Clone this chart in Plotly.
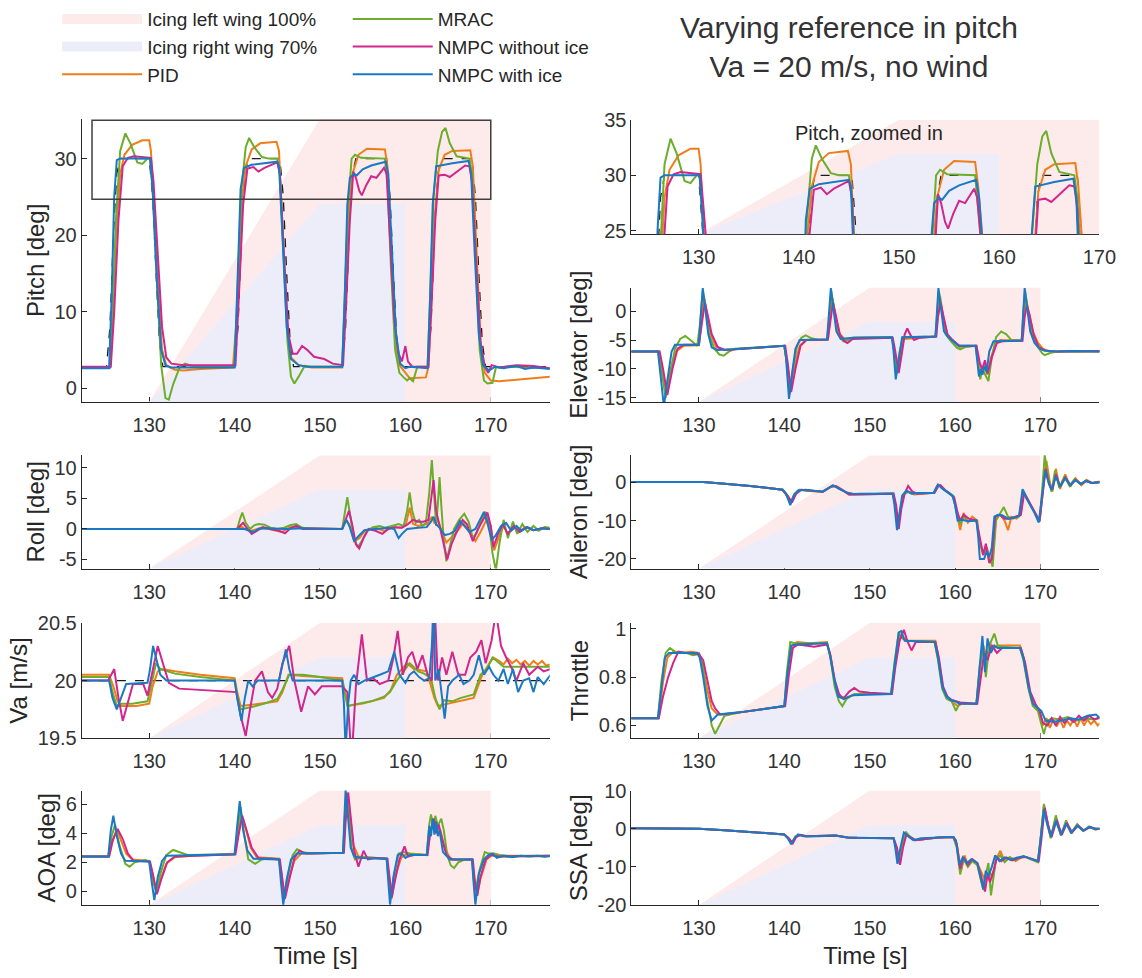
import plotly.graph_objects as go

# ---------------- data ----------------
ICE_START, ICE_FULL, ICE_RIGHT_END, ICE_LEFT_END = 130, 150, 160, 170
ICE_RIGHT_FRAC = 0.7
ZOOM_X = [123.3, 170.0]
ZOOM_Y = [24.7, 35.0]
X_RANGE = [122.1, 176.9]
X_TICKS = [130, 140, 150, 160, 170]

PITCH_REF = [(122,2.8),(125.0,2.8),(125.4,8),(125.8,20),(126.2,28),(126.6,30),(130.0,30),(130.4,25),(130.8,15),(131.2,6),(131.6,2.8),
             (140.0,2.8),(140.4,8),(140.8,20),(141.2,28),(141.6,30),(145.3,30),(145.7,25),(146.1,15),(146.5,6),(146.9,2.8),
             (152.6,2.8),(153.0,8),(153.4,20),(153.8,28),(154.2,30),(157.8,30),(158.2,25),(158.6,15),(159.0,6),(159.4,2.8),
             (162.6,2.8),(163.0,8),(163.4,20),(163.8,28),(164.2,30),(167.8,30),(168.2,25),(168.6,15),(169.0,6),(169.4,2.8),(177,2.8)]
PITCH_PID = [(122,2.7),(125.4,2.7),(125.7,8),(126.1,20),(126.6,28),(127.1,30.5),(128,31.8),(129.2,32.4),(130.0,32.4),(130.2,31),(130.5,25),(131.0,14),(131.5,5),(132.0,3.0),(133,2.4),(134,2.3),(136,2.5),(139.8,2.7),
             (140.3,10),(140.8,24),(141.3,29),(142,31.2),(143,32),(144.9,32.2),(145.2,31),(145.6,22),(146.1,9),(146.6,4),(147.5,3),(149,2.7),(152.6,2.7),
             (152.9,10),(153.3,22),(153.8,28),(154.5,30.5),(155.5,31.3),(157.6,31.2),(157.9,29),(158.3,18),(158.8,6),(159.3,3),(159.8,2.3),(160.5,1.3),(162.4,1.4),
             (162.7,2.8),(163.0,10),(163.4,22),(163.9,28.5),(164.6,30.5),(165.5,31.0),(167.6,31.1),(167.9,29),(168.3,18),(168.8,6),(169.3,2),(170,1.0),(171,0.9),(173,1.1),(175,1.3),(177,1.5)]
PITCH_MRAC = [(122,2.7),(125.4,2.7),(125.7,10),(126.1,22),(126.6,31),(127.2,33.3),(127.8,32),(128.6,29.5),(129.2,29.3),(129.8,30),(130.1,30),(130.4,26),(130.9,14),(131.4,3),(131.9,-1.3),(132.3,-1.5),(132.8,0.5),(133.6,2.8),(134.2,3.2),(135,2.9),
              (140.0,2.8),(140.3,12),(140.8,26),(141.3,31.5),(141.7,32.7),(142.3,31.5),(143.2,30.2),(144,30),(145.0,30),(145.3,28),(145.7,18),(146.2,6),(146.6,1.5),(147.0,0.6),(147.5,1.5),(148.2,2.9),(149,2.8),
              (152.6,2.8),(152.9,12),(153.3,24),(153.7,30),(154.1,30.5),(154.8,30.1),(157.6,30),(157.9,27),(158.3,16),(158.8,5),(159.3,2),(159.8,1.4),(160.2,1.0),(160.5,1.3),(160.9,0.9),(161.4,2.8),
              (162.6,2.8),(162.9,12),(163.3,25),(163.8,31),(164.3,33.5),(164.7,34.0),(165.2,32),(166,30.3),(167.5,30),(167.8,28),(168.2,17),(168.7,5),(169.2,1.0),(169.6,0.6),(170.2,0.7),(170.6,2.7),(172,2.8),(174,2.7),(177,2.6)]
PITCH_NOICE = [(122,2.8),(125.5,2.8),(125.9,10),(126.4,22),(126.9,29),(127.5,30.1),(128.2,30.3),(130.2,30.1),(130.5,27),(131.0,18),(131.5,8),(132.0,4),(132.6,3.2),(134,3.0),
               (140.1,3.0),(140.5,12),(141.0,24),(141.5,28.7),(142.2,28.9),(142.8,28.3),(143.5,28.8),(145.0,29.5),(145.3,28),(145.8,17),(146.3,7),(146.8,4.5),(147.3,4.5),(147.9,5.5),(148.5,5.0),(149.3,4.1),(150.5,3.8),(151.5,3.2),
               (152.7,3.0),(153.1,12),(153.5,22),(153.9,28.3),(154.2,27.5),(154.6,25.8),(154.9,25.2),(155.4,26.5),(156.0,27.7),(156.6,27.5),(157.5,28.8),(157.8,28),(158.2,20),(158.7,9),(159.2,4.5),(159.6,3.5),(160.0,5.5),(160.3,3.5),(160.8,2.8),
               (162.7,2.8),(163.1,12),(163.5,22),(163.9,27.8),(164.6,27.9),(165.2,27.6),(166.0,28.3),(167.0,29.1),(167.5,29),(167.8,27),(168.3,16),(168.8,6),(169.3,2.8),(169.7,2.0),(170.1,3.0),(171,2.7),(173,3.0),(175,2.9),(177,2.6)]
PITCH_ICE = [(122,2.6),(125.3,2.6),(125.6,12),(125.9,25),(126.2,29.8),(126.6,30.0),(130.1,30.0),(130.4,26),(130.9,14),(131.4,5),(131.9,3),(132.5,2.7),
             (140.0,2.7),(140.3,12),(140.7,26),(141.1,28.8),(142,29.2),(145.0,29.6),(145.2,29),(145.6,20),(146.1,8),(146.6,3.8),(147.5,3),(148.5,2.8),
             (152.6,2.8),(152.9,12),(153.2,24),(153.5,27.5),(154.0,28.0),(154.3,27.8),(155,28.6),(156,29.1),(157.7,29.6),(158.0,28),(158.4,18),(158.9,7),(159.4,3.2),(160.0,2.6),(160.5,2.8),
             (162.6,2.6),(162.9,12),(163.2,24),(163.6,29),(164.5,29.2),(165.5,29.4),(167.4,29.7),(167.7,28),(168.1,18),(168.6,7),(169.1,3.0),(169.8,2.3),(170.5,2.8),(171.5,2.6),(173,2.9),(174,2.5),(175,2.7),(177,2.5)]

ELEV_PID = [(122,-7),(125.3,-7),(125.7,-11),(126.2,-14),(126.7,-10),(127.3,-7),(128.2,-6.0),(130.0,-5.9),(130.3,-2),(130.6,2.5),(130.9,0),(131.4,-4),(132,-6.2),(133,-6.7),
            (140.0,-6.0),(140.3,-9),(140.7,-13),(141.2,-9.5),(141.8,-6),(142.5,-5),(145.1,-4.9),(145.4,-1),(145.65,2.2),(146,-1),(146.5,-4),(147.2,-5.0),(148,-4.6),
            (152.6,-4.5),(152.9,-7),(153.2,-10.5),(153.6,-7.5),(154,-4.8),(157.7,-4.4),(158.0,-0.5),(158.25,2.5),(158.6,-1),(159.1,-4),(159.7,-5.0),(160.5,-6.2),
            (162.5,-6.0),(162.8,-9),(163.1,-10.5),(163.4,-9.5),(163.8,-11),(164.2,-8),(164.8,-5.5),(165.3,-5.0),(167.8,-5.1),(168.05,-1),(168.3,2.2),(168.6,0),(169.1,-3.5),(169.7,-5.5),(170.3,-6.5),(171,-7),(177,-7)]
ELEV_MRAC = [(122,-7),(125.3,-7),(125.6,-10),(126.1,-15),(126.6,-11),(127.2,-6.5),(127.8,-4.8),(128.4,-4.3),(129.0,-5),(129.8,-6.0),(130.15,-2),(130.45,3.5),(130.75,1),(131.2,-4),(131.8,-6.5),(132.4,-7.5),(132.9,-7.7),(133.5,-7),(134.2,-6.5),
             (140.0,-6.0),(140.3,-9),(140.6,-14.5),(141.0,-10),(141.5,-6),(142.0,-4.6),(142.5,-4.2),(143.2,-4.7),(144,-5.0),(145.0,-4.9),(145.3,-1),(145.5,3.5),(145.8,0.5),(146.3,-4),(146.9,-5.2),(147.5,-5.0),(148.2,-4.6),
             (152.6,-4.5),(152.9,-7),(153.1,-11),(153.5,-7),(153.9,-4.5),(157.7,-4.4),(157.9,0),(158.1,3.5),(158.4,0.5),(158.9,-4),(159.5,-5.2),(160.2,-6.3),(160.6,-6.6),(161.2,-6.2),
             (162.4,-6.0),(162.7,-9),(162.95,-11.8),(163.2,-10),(163.5,-11),(163.9,-12.1),(164.3,-8),(164.8,-4.5),(165.4,-3.5),(166.0,-4.0),(166.6,-5),(167.8,-5.1),(168.0,0),(168.2,3.5),(168.5,0.5),(169,-4),(169.6,-6.0),(170.2,-7.3),(170.5,-7.6),(171.2,-7.2),(172,-7),(177,-7)]
ELEV_NOICE = [(122,-7),(125.4,-7),(125.8,-10),(126.3,-14.5),(126.9,-10),(127.5,-6.5),(128.2,-5.8),(130.0,-5.8),(130.35,-2),(130.7,1.5),(131.0,-0.5),(131.5,-4),(132.2,-6.2),(133,-6.7),
              (140.1,-6.0),(140.4,-9),(140.8,-14),(141.3,-10),(141.9,-6),(142.6,-5.0),(145.1,-4.9),(145.4,-2),(145.7,1.5),(146.0,-0.5),(146.5,-4),(147.0,-5.2),(147.4,-5.5),(148,-4.8),
              (152.7,-4.6),(153.0,-7),(153.4,-10.7),(153.8,-7),(154.1,-4),(154.4,-3.0),(154.8,-4.2),(155.2,-5.0),(155.8,-4.6),(157.8,-4.4),(158.0,-1),(158.3,1.5),(158.6,-0.5),(159.1,-4),(159.7,-5.0),(160.5,-6.0),
              (162.5,-6.0),(162.9,-9),(163.2,-10),(163.5,-8.5),(163.8,-10.8),(164.3,-8),(164.9,-5.5),(165.5,-5.2),(167.9,-5.1),(168.15,-1),(168.4,1.0),(168.7,-0.5),(169.2,-4),(169.8,-6.2),(170.5,-6.8),(172,-7),(177,-6.9)]
ELEV_ICE = [(122,-7),(125.2,-7),(125.5,-11),(125.9,-16.5),(126.3,-12),(126.8,-7),(127.2,-5.8),(130.0,-5.8),(130.2,-1),(130.45,4.0),(130.7,1),(131.1,-4),(131.5,-6.3),(132.2,-6.7),(134,-6.6),
            (140.0,-6.0),(140.2,-8),(140.55,-15.2),(140.9,-11),(141.3,-6.5),(141.8,-5.0),(145.0,-4.9),(145.2,-1),(145.45,4.0),(145.7,1),(146.1,-3.5),(146.6,-4.8),(148,-4.6),
            (152.6,-4.5),(152.8,-7),(153.05,-11.8),(153.4,-8),(153.8,-4.5),(157.7,-4.4),(157.85,0),(158.05,4.0),(158.3,1),(158.7,-3.5),(159.2,-4.5),(159.7,-5.2),(160.4,-6.0),
            (162.4,-6.0),(162.6,-9),(162.8,-11.3),(163.0,-10),(163.2,-11),(163.45,-9.5),(163.7,-10.5),(164.0,-7),(164.5,-5.2),(167.8,-5.1),(167.95,0),(168.15,4.0),(168.4,1),(168.8,-3.5),(169.3,-5.5),(169.9,-6.5),(170.4,-6.8),(172,-7),(174,-6.9),(177,-7)]

ROLL_PID = [(122,0),(140.2,0),(140.7,0.5),(141.2,0),(142,-0.3),(143,0.2),(144,0),(145.5,-0.5),(146.5,0.3),(147.5,0.2),(152.6,0),(153.0,1.5),(153.4,0.8),(154.0,-2.0),(154.6,-1.5),(155.3,-0.2),(156.5,0.2),(157.5,-0.3),(158.5,0.3),(159.5,0.2),
            (160.1,1.0),(160.5,3.5),(160.9,0.8),(161.5,0.5),(162.5,0.8),(163.1,2),(163.4,1.0),(163.8,1.5),(164.3,-0.5),(164.8,-2.2),(165.3,-1.5),(166,-0.5),(166.8,1.0),(167.5,-0.5),(168.2,-2.0),(168.8,-0.5),(169.5,1.5),(170.0,0.5),(170.4,-3.5),(170.9,-1.5),(171.5,0.5),(172,-0.8),(172.7,0.5),(173.3,-0.5),(174,0.3),(175,-0.2),(176,0.1),(177,0)]
ROLL_MRAC = [(122,0),(140.3,0),(140.6,1.5),(140.9,2.7),(141.3,1),(141.8,0),(142.3,0.6),(142.8,0.8),(143.5,0.7),(144.2,0.2),(145,0),(145.8,0.2),(146.5,0.6),(147.2,0.8),(147.8,0.3),(148.5,0),
             (152.6,0),(152.9,3),(153.2,5.2),(153.5,2.5),(154.0,-1.5),(154.4,-3.0),(154.9,-2.0),(155.5,-0.3),(156.2,0.3),(157,0.5),(157.6,0.2),(158.4,0.5),(159.2,0.8),(159.8,0.5),(160.2,3),(160.5,6.0),(160.8,3),(161.2,1.0),(161.6,1.5),(162.0,0.5),(162.4,1.0),
             (162.8,6),(163.1,11.3),(163.4,5),(163.6,0.5),(163.8,4),(164.0,8.5),(164.2,4),(164.5,-2),(164.8,-5.3),(165.2,-3),(165.7,0),(166.3,1.5),(166.9,2.5),(167.4,1.2),(167.9,-1.5),(168.4,-0.5),(168.9,1.5),(169.4,2.8),(169.8,1),
             (170.2,-4),(170.6,-6.8),(171.0,-2.5),(171.5,1.5),(172.0,-1.5),(172.6,1.2),(173.1,-0.8),(173.7,0.8),(174.3,-0.5),(175,0.5),(175.6,-0.3),(176.3,0.3),(177,0.2)]
ROLL_NOICE = [(122,0),(140.3,0),(140.7,0.6),(141.0,1.0),(141.4,0.2),(142.0,-0.8),(142.6,-0.3),(143.3,0.3),(144.2,0),(145.2,-0.3),(145.9,-0.7),(146.6,0.2),(147.2,0.5),(148,0),
              (152.6,0),(153.0,1.5),(153.4,3.0),(153.8,0.5),(154.2,-2.5),(154.6,-3.2),(155.1,-1.5),(155.7,0),(156.5,-0.3),(157.3,-0.8),(158,0),(158.8,0.3),(159.6,0.2),(160.3,0.8),(160.9,1.5),(161.5,1.2),(162.1,1.2),(162.7,1.5),
              (163.0,5),(163.3,8.0),(163.6,3),(164.0,0.5),(164.4,-2),(164.9,-5.0),(165.4,-2.5),(166,-0.5),(166.7,1.5),(167.2,0.8),(167.9,-2.0),(168.5,0),(169.1,1.5),(169.6,2.7),(170.0,0.5),(170.3,-3.0),(170.8,-1),(171.4,0.8),(172,-0.8),(172.7,0.5),(173.4,-0.5),(174.2,0.3),(175,-0.2),(176,0.1),(177,0)]
ROLL_ICE = [(122,0),(141.2,0),(141.7,-0.3),(142.2,-0.5),(142.8,0),(143.5,0.1),(146,0),(148,0.1),(152.6,0),(152.9,0.8),(153.1,1.5),(153.5,0.3),(154.0,-2.0),(154.5,-1.2),(155.2,-0.2),(156.5,0),(158.0,0.2),(158.7,0),(159.2,-1.5),(159.6,-0.8),(160.2,0),
            (161.5,0.2),(162.5,0.3),(163.0,1.2),(163.3,2.0),(163.6,0.8),(164.0,0.2),(164.6,-1.0),(165.2,-0.8),(165.8,-0.3),(166.4,1.3),(166.9,0.5),(167.5,-0.5),(168.2,0),(168.7,1.5),(169.2,2.8),(169.6,1.0),(170.1,-1.8),(170.6,-1.0),(171.2,0.5),(171.8,1.0),(172.4,-0.3),(173,0.5),(173.6,-0.3),(174.3,0.3),(175,-0.2),(176,0.1),(177,0)]

AIL_PID = [(122,0),(130.5,0),(133,-0.4),(136,-1.0),(139.8,-2.0),(140.3,-3.5),(140.8,-5.5),(141.3,-3),(141.8,-2.0),(142.7,-2.3),(144.5,-2.5),(145.5,-1.2),(146,-1.0),(146.6,-1.8),(147.4,-3.0),(148.2,-3.2),
           (152.7,-3.0),(153.0,-6),(153.3,-12),(153.6,-7),(154.0,-3.2),(154.5,-2.5),(155.2,-3.2),(157.5,-2.8),(157.9,-1),(158.2,-0.8),(158.7,-2),(159.3,-2.8),(159.8,-3.8),(160.2,-8),(160.6,-12.5),(161.0,-8.0),(161.5,-10.5),(162.0,-9),(162.6,-10),
           (162.9,-16),(163.3,-19),(163.7,-17),(164.1,-21),(164.4,-20),(164.8,-9),(165.3,-8.5),(165.8,-10),(166.2,-12.5),(166.6,-9),(167.2,-9.5),(167.7,-8.5),(168.0,-2.5),(168.5,-4.5),(169.0,-6.5),(169.5,-8.5),(169.9,-10.3),
           (170.3,-2),(170.7,5.5),(171.1,0),(171.4,-2.5),(171.8,3.5),(172.3,-1.8),(172.9,2.0),(173.5,-1.2),(174.1,1.0),(174.8,-0.8),(175.4,0.6),(176.1,-0.3),(177,0.2)]
AIL_MRAC = [(122,0),(130.5,0),(133,-0.4),(136,-1.0),(139.8,-2.0),(140.3,-3.5),(140.7,-5.5),(141.2,-3),(141.8,-2.0),(142.8,-2.2),(144.5,-2.5),(145.5,-1.2),(145.9,-1.0),(146.5,-1.8),(147.4,-2.8),(148.2,-3.1),
            (152.7,-3.0),(153.0,-6),(153.3,-12),(153.6,-7),(154.0,-3.0),(154.6,-2.5),(155.2,-3.0),(157.5,-2.8),(157.9,-1),(158.2,-0.8),(158.7,-2),(159.3,-2.8),(159.8,-3.6),(160.2,-8),(160.6,-11),(161.0,-9.0),(161.5,-10.2),(162.5,-10),
            (162.9,-16),(163.3,-18),(163.7,-17),(164.1,-20),(164.4,-22),(164.8,-10),(165.2,-8.5),(165.7,-6.5),(166.2,-9),(166.8,-9.5),(167.5,-8.8),(168.0,-2.2),(168.5,-4.5),(169.0,-6.5),(169.5,-8.5),(169.9,-10.2),
            (170.2,-2),(170.5,7.0),(170.9,1),(171.3,-2.5),(171.7,3.0),(172.2,-1.5),(172.8,1.5),(173.4,-1.0),(174,0.8),(174.7,-0.6),(175.3,0.4),(176,-0.2),(177,0)]
AIL_NOICE = [(122,0),(130.5,0),(133,-0.4),(136,-1.0),(139.8,-2.0),(140.4,-3.5),(140.9,-5.3),(141.4,-3),(142,-2.0),(142.8,-2.2),(144.5,-2.5),(145.6,-1.0),(146.1,-1.1),(146.8,-2.0),(147.6,-3.3),(148.3,-3.2),
             (152.8,-3.0),(153.1,-6),(153.4,-12.2),(153.7,-7),(154.1,-3.0),(154.5,-1.0),(155.0,-2.5),(155.6,-3.0),(157.6,-2.8),(158.0,-1.2),(158.3,-0.8),(158.8,-2),(159.4,-3),(159.9,-4),(160.3,-8),(160.6,-10),(161.0,-8.5),(161.6,-9.5),(162.5,-10),
             (162.9,-15),(163.3,-19),(163.6,-16),(164.0,-21),(164.3,-20),(164.7,-9),(165.2,-8.5),(165.8,-9.5),(166.4,-9.5),(167.2,-9),(167.7,-8.5),(168.1,-2.8),(168.5,-4.5),(169.0,-6.5),(169.5,-8.5),(169.9,-10),
             (170.3,-2),(170.6,3.5),(171.0,-0.5),(171.4,-2),(171.8,2.0),(172.3,-1.2),(172.9,1.2),(173.5,-0.8),(174.1,0.6),(174.8,-0.5),(175.4,0.3),(176,-0.2),(177,0)]
AIL_ICE = [(122,0),(130.5,0),(133,-0.4),(136,-1.0),(139.8,-2.0),(140.2,-3.0),(140.7,-6.0),(141.1,-3.5),(141.6,-2.2),(142.5,-2.0),(144.5,-2.5),(145.3,-1.5),(145.7,-0.8),(146.3,-1.6),(147.2,-2.6),(148,-3.1),(149,-3.0),
           (152.7,-3.0),(152.9,-6),(153.2,-12.5),(153.5,-8),(153.8,-3.5),(154.3,-2.2),(154.9,-3.0),(155.6,-2.8),(157.5,-2.8),(157.8,-1.5),(158.0,-0.6),(158.4,-1.5),(159.0,-2.5),(159.7,-3.6),(160.0,-6),(160.3,-10),(160.8,-9.8),(161.5,-10.2),(162.5,-10),
           (162.7,-14),(162.9,-20),(163.4,-20),(163.7,-18),(164.0,-19.5),(164.3,-17),(164.6,-9),(165.0,-8.5),(165.5,-8.6),(166.2,-9.5),(167.0,-9.2),(167.5,-8.8),(167.9,-1.8),(168.3,-4),(168.8,-6),(169.3,-8),(169.8,-10.5),
           (170.2,-3),(170.55,3.0),(171.0,-0.5),(171.3,-2),(171.8,1.5),(172.3,-1.2),(172.9,1.0),(173.5,-0.8),(174.1,0.5),(174.7,-0.5),(175.3,0.3),(176,-0.2),(177,0)]

VA_REF = [(122,20.0),(177,20.0)]
VA_PID = [(122,20.05),(125.3,20.05),(125.8,19.95),(126.3,19.82),(126.7,19.78),(128.5,19.78),(130.0,19.8),(130.4,19.95),(131.0,20.08),(131.5,20.1),(133,20.08),(136,20.05),(140.0,20.02),
          (140.3,19.9),(140.7,19.78),(142,19.79),(145,19.82),(145.6,19.9),(146.3,20.05),(148,20.04),(152.6,20.02),(152.9,19.9),(153.3,19.78),(155,19.8),(157.5,19.85),(158.3,19.92),(159,20.05),(160.2,20.15),(161,20.1),(162.5,20.08),
          (163.0,19.95),(163.4,19.85),(163.8,19.78),(165,19.8),(166.5,19.83),(168,19.85),(168.5,19.95),(169,20.05),(170.3,20.2),(171,20.17),(171.5,20.14),(172.0,20.19),(172.5,20.15),(173,20.18),(173.5,20.14),(174,20.17),(174.5,20.13),(175,20.17),(175.5,20.14),(176,20.17),(176.5,20.13),(177,20.14)]
VA_MRAC = [(122,20.03),(125.3,20.03),(125.7,19.9),(126.2,19.78),(126.8,19.8),(128,19.8),(129.8,19.82),(130.2,19.95),(130.8,20.15),(131.3,20.1),(133,20.06),(136,20.03),(140.0,20.0),
           (140.3,19.88),(140.7,19.75),(142,19.77),(143.5,19.8),(145,19.84),(145.6,19.92),(146.4,20.05),(148,20.05),(150,20.03),(152.6,20.0),(152.9,19.9),(153.2,19.78),(154.5,19.8),(156,19.82),(157.5,19.86),(158.2,19.9),(159,20.0),(160.0,20.1),(160.5,20.15),(161.5,20.08),(162.2,20.06),(163.0,20.02),
           (163.5,19.85),(164.0,19.75),(164.5,19.83),(165.5,19.82),(166.5,19.85),(168.0,19.88),(168.8,20.05),(169.5,20.1),(170.2,20.2),(171.5,20.12),(173,20.12),(175,20.12),(177,20.12)]
VA_NOICE = [(122,20.0),(125.2,20.0),(125.9,20.1),(126.4,19.85),(126.9,19.65),(127.5,19.8),(128.1,19.97),(129.3,19.97),(129.8,19.87),(130.3,20.05),(131.0,20.3),(131.6,20.15),(132.3,19.98),(133.5,19.93),(136,19.92),
            (140.2,19.9),(140.7,19.7),(141.3,19.52),(141.8,19.75),(142.4,20.0),(143.2,20.08),(143.9,19.9),(144.4,19.85),(145.0,19.93),(145.6,20.15),(146.4,20.3),(147.0,20.0),(147.8,19.73),(148.6,19.95),(149.4,19.88),(150.2,19.95),
            (152.6,19.95),(153.2,19.9),(153.7,19.3),(154.2,19.95),(154.9,20.4),(155.5,20.0),(156.2,20.02),(157.0,19.97),(158.0,20.0),(158.6,20.2),(159.1,20.43),(159.7,20.05),(160.3,20.2),(160.8,20.25),(161.4,20.1),(162.0,20.22),(162.6,20.05),
            (163.1,20.0),(163.4,20.7),(163.8,20.0),(164.3,20.2),(164.8,20.05),(165.5,20.25),(166.2,20.05),(167.0,20.05),(167.6,20.2),(168.3,20.25),(168.9,20.35),(169.4,20.15),(170.1,20.35),(170.6,20.6),(171.2,20.3),(171.8,20.2),(172.5,20.1),(173.0,20.0),(173.8,20.15),(174.5,20.05),(175.5,20.12),(176.2,20.08),(177,20.1)]
VA_ICE = [(122,20.0),(125.3,20.0),(125.7,19.85),(126.2,19.75),(126.7,19.85),(127.3,19.97),(129.8,19.98),(130.1,20.1),(130.45,20.3),(130.8,20.2),(131.3,20.05),(132,20.0),
          (140.0,20.0),(140.3,19.85),(140.8,19.65),(141.2,19.85),(141.6,20.0),(142.1,19.95),(142.7,20.0),(145.2,20.0),(145.6,20.15),(146.0,20.27),(146.4,20.1),(146.8,20.0),
          (152.6,20.0),(152.8,19.8),(153.0,19.4),(153.3,19.8),(153.6,20.0),(154.0,20.05),(154.5,19.97),(155.2,20.0),(157.0,20.05),(158.0,20.08),(158.7,20.25),(159.3,20.05),(160.0,19.98),(160.5,20.05),(161.0,20.08),(161.6,20.03),(162.2,20.0),(162.8,20.02),
          (163.1,20.3),(163.3,20.7),(163.5,20.0),(163.9,20.1),(164.3,19.85),(164.6,19.67),(165.0,19.95),(165.5,20.0),(166.3,20.05),(166.8,19.97),(167.5,20.0),(168.0,20.05),(168.6,20.22),(169.2,20.05),(169.8,20.12),(170.3,20.05),(170.9,20.0),(171.5,20.1),(172.0,19.97),(172.6,20.1),(173.2,19.9),(173.8,20.0),(174.5,20.02),(175.0,19.9),(175.5,20.03),(176.2,19.97),(177,20.05)]

THR_PID = [(122,0.63),(125.3,0.63),(125.8,0.78),(126.3,0.88),(127,0.905),(128,0.90),(129,0.905),(130.0,0.90),(130.4,0.86),(130.9,0.76),(131.5,0.67),(132.2,0.645),(133,0.645),(135,0.655),
           (140.0,0.68),(140.4,0.82),(140.9,0.93),(141.5,0.945),(143,0.94),(145.0,0.945),(145.4,0.89),(145.9,0.78),(146.5,0.72),(147.2,0.715),(148.5,0.73),(152.6,0.73),(153.0,0.86),(153.5,0.97),(154.0,0.96),(154.5,0.95),(157.7,0.95),
           (158.1,0.87),(158.6,0.75),(159.1,0.71),(159.6,0.70),(160.3,0.68),(160.8,0.69),(162.5,0.69),(162.9,0.83),(163.3,0.93),(163.7,0.88),(164.1,0.94),(164.6,0.92),(165,0.93),(167.6,0.93),(168.1,0.87),(168.7,0.74),(169.2,0.69),(169.8,0.66),
           (170.3,0.60),(170.7,0.63),(171.1,0.59),(171.5,0.625),(171.9,0.595),(172.3,0.625),(172.7,0.59),(173.1,0.62),(173.5,0.6),(173.9,0.625),(174.3,0.595),(174.7,0.63),(175.1,0.6),(175.5,0.625),(175.9,0.605),(176.3,0.62),(176.7,0.6),(177,0.61)]
THR_MRAC = [(122,0.63),(125.2,0.63),(125.6,0.78),(126.1,0.90),(126.6,0.92),(127.2,0.905),(128.5,0.90),(129.3,0.89),(130.0,0.895),(130.4,0.85),(130.9,0.72),(131.5,0.60),(131.9,0.565),(132.4,0.6),(133,0.64),(135,0.655),
            (140.0,0.68),(140.3,0.82),(140.7,0.945),(141.2,0.94),(145.0,0.94),(145.4,0.88),(145.9,0.76),(146.4,0.70),(146.8,0.68),(147.3,0.71),(148.2,0.73),(152.5,0.73),(152.9,0.86),(153.4,0.985),(153.8,0.96),(154.3,0.95),(157.6,0.945),
            (158.0,0.87),(158.5,0.75),(159.0,0.71),(159.6,0.70),(160.1,0.66),(160.5,0.69),(162.5,0.69),(162.9,0.85),(163.3,0.93),(163.6,0.80),(164.0,0.93),(164.6,0.98),(165,0.93),(165.6,0.925),(167.6,0.92),(168.0,0.87),(168.6,0.75),(169.1,0.68),(169.7,0.66),
            (170.1,0.61),(170.4,0.565),(170.8,0.62),(171.4,0.63),(172.2,0.625),(173.2,0.635),(174.2,0.62),(175.2,0.63),(176.2,0.625),(177,0.63)]
THR_NOICE = [(122,0.63),(125.3,0.63),(125.8,0.72),(126.4,0.80),(127.0,0.86),(127.6,0.905),(128.5,0.90),(130.0,0.895),(130.5,0.87),(131.0,0.78),(131.5,0.70),(131.9,0.67),(132.5,0.645),(135,0.655),
             (140.1,0.68),(140.5,0.80),(141.0,0.92),(141.6,0.935),(143.5,0.925),(145.0,0.935),(145.4,0.89),(145.9,0.79),(146.4,0.73),(146.9,0.71),(147.6,0.74),(148.2,0.755),(148.8,0.74),(150,0.735),(152.6,0.73),
             (153.0,0.84),(153.5,0.95),(154.0,0.995),(154.4,0.95),(154.9,0.91),(155.4,0.945),(157.7,0.945),(158.1,0.88),(158.6,0.76),(159.1,0.72),(159.6,0.705),(160.1,0.70),(160.6,0.695),(162.6,0.69),
             (163.0,0.80),(163.4,0.90),(163.8,0.87),(164.3,0.93),(164.9,0.90),(165.5,0.92),(167.7,0.92),(168.2,0.86),(168.8,0.74),(169.4,0.69),(169.9,0.66),(170.3,0.61),(170.8,0.60),(171.3,0.63),(171.8,0.60),(172.3,0.635),(172.8,0.61),(173.3,0.63),(173.9,0.615),(174.5,0.64),(175.1,0.62),(175.7,0.64),(176.3,0.625),(177,0.635)]
THR_ICE = [(122,0.63),(125.2,0.63),(125.6,0.75),(126.0,0.88),(126.5,0.90),(129.8,0.90),(130.1,0.88),(130.5,0.80),(131.0,0.68),(131.5,0.62),(132.2,0.645),(135,0.655),
           (140.0,0.68),(140.3,0.80),(140.8,0.93),(141.5,0.935),(145.0,0.94),(145.3,0.90),(145.8,0.80),(146.3,0.72),(147.0,0.71),(148.0,0.725),(152.5,0.73),(152.9,0.85),(153.4,0.985),(153.7,0.99),(154.1,0.95),(157.6,0.945),
           (158.0,0.88),(158.5,0.76),(159.0,0.72),(159.5,0.705),(160.0,0.70),(160.5,0.69),(162.5,0.69),(162.9,0.85),(163.2,0.97),(163.5,0.82),(163.8,0.96),(164.2,0.90),(164.6,0.93),(165,0.92),(167.6,0.92),(168.0,0.88),(168.6,0.76),(169.1,0.69),(169.6,0.675),
           (170.1,0.66),(170.6,0.62),(171.5,0.615),(172.5,0.62),(173.5,0.63),(174.5,0.625),(175.5,0.64),(176.5,0.645),(177,0.63)]

AOA_PID = [(122,2.4),(125.3,2.4),(125.7,3.4),(126.2,4.3),(126.7,3.5),(127.3,2.6),(128.0,2.2),(130.0,2.1),(130.4,1.2),(130.8,0.0),(131.3,0.8),(132.0,1.9),(133,2.35),(135,2.45),
           (140.0,2.55),(140.4,4),(140.8,5.2),(141.3,4.3),(141.9,3.0),(142.6,2.35),(145.2,2.25),(145.5,1.2),(145.8,-0.3),(146.3,0.8),(147,2.1),(147.8,2.6),(152.7,2.65),(152.9,4.5),(153.2,6.7),(153.5,5.3),(153.9,3.2),(154.5,2.4),
           (157.8,2.25),(158.1,1.0),(158.4,-0.5),(158.8,1.0),(159.5,2.3),(160.2,2.6),(162.5,2.5),(162.9,4.0),(163.3,5.0),(163.7,4.4),(164.1,4.2),(164.6,3.0),(165.3,2.2),(167.8,2.2),(168.1,0.8),(168.4,-0.3),(168.8,0.9),(169.5,2.2),(170.2,2.5),(171,2.4),(177,2.42)]
AOA_MRAC = [(122,2.4),(125.2,2.4),(125.6,3.8),(126.0,4.6),(126.5,3.2),(127.2,1.9),(127.7,1.7),(128.3,2.0),(129.5,2.15),(130.0,2.05),(130.4,0.8),(130.8,0.0),(131.3,1.2),(132.0,2.5),(132.8,2.85),(133.5,2.7),(134.5,2.5),
            (140.0,2.55),(140.4,4.5),(140.7,5.8),(141.1,4.0),(141.6,2.2),(142.4,1.9),(143.2,2.2),(144,2.3),(145.2,2.2),(145.5,0.8),(145.8,-0.3),(146.2,1.0),(146.8,2.5),(147.3,2.9),(148.0,2.7),(149,2.6),
            (152.7,2.65),(152.9,5),(153.1,6.8),(153.4,5),(153.7,3.0),(154.1,2.2),(155,2.35),(157.8,2.25),(158.0,1.0),(158.3,-0.3),(158.7,1.2),(159.2,2.6),(159.8,2.7),(160.5,2.6),
            (162.5,2.5),(162.8,4.6),(163.0,5.3),(163.3,4.3),(163.5,5.2),(163.8,4.5),(164.2,5.0),(164.5,4.2),(164.9,2.5),(165.3,1.8),(165.7,1.6),(166.2,2.0),(167.0,2.2),(167.8,2.2),(168.0,0.8),(168.3,0.3),(168.7,1.5),(169.3,2.7),(169.8,2.6),(170.4,2.6),(171,2.5),(172,2.45),(177,2.45)]
AOA_NOICE = [(122,2.4),(125.3,2.4),(125.7,3.5),(126.3,4.3),(126.9,3.6),(127.5,2.6),(128.2,2.1),(130.1,2.05),(130.5,1.0),(130.9,-0.2),(131.4,0.8),(132.1,2.0),(133,2.4),
             (140.1,2.55),(140.5,4.0),(140.9,5.2),(141.4,4.2),(142,3.0),(142.8,2.3),(145.3,2.2),(145.6,0.8),(145.9,-0.5),(146.4,0.8),(147.0,2.3),(147.6,2.8),(148.3,2.6),
             (152.8,2.65),(153.0,4.8),(153.3,6.8),(153.6,5.0),(154.0,2.8),(154.5,1.7),(155.1,2.8),(155.6,2.2),(156.5,2.3),(157.9,2.25),(158.1,1.0),(158.4,-0.4),(158.8,0.8),(159.3,2.2),(159.9,3.1),(160.3,2.4),(161,2.5),
             (162.6,2.5),(162.9,4.0),(163.3,5.0),(163.6,4.0),(163.9,4.6),(164.3,3.6),(164.8,2.5),(165.5,2.2),(167.9,2.2),(168.1,0.8),(168.4,-0.3),(168.8,1.0),(169.4,2.2),(170,2.5),(170.8,2.4),(177,2.45)]
AOA_ICE = [(122,2.4),(125.2,2.4),(125.5,4.2),(125.8,5.2),(126.2,3.8),(126.7,2.6),(127.2,2.1),(130.0,2.05),(130.3,0.6),(130.6,-0.6),(131.0,1.0),(131.5,2.1),(132.0,2.45),
           (140.0,2.55),(140.3,4.5),(140.6,6.2),(141.0,4.2),(141.5,2.8),(142.2,2.25),(145.2,2.2),(145.45,0.5),(145.7,-0.9),(146.1,0.8),(146.6,2.2),(147.3,2.6),
           (152.7,2.65),(152.85,5),(153.0,7.0),(153.3,5),(153.6,3.0),(154.0,2.4),(155,2.3),(157.8,2.25),(158.0,0.5),(158.2,-0.9),(158.6,1.0),(159.1,2.5),(159.6,2.6),(160.0,2.3),(160.5,2.5),
           (162.5,2.5),(162.8,4.5),(163.0,3.8),(163.2,5.0),(163.4,3.9),(163.6,4.8),(163.8,3.8),(164.0,4.2),(164.4,2.7),(165.2,2.2),(167.8,2.2),(168.0,0.5),(168.2,-0.9),(168.6,1.2),(169.2,2.2),(169.7,2.5),
           (170.2,2.6),(170.7,2.3),(171.5,2.45),(172.5,2.35),(173.5,2.45),(174.5,2.4),(175.5,2.45),(176.3,2.38),(177,2.45)]

SSA_PID = [(122,0.1),(130.0,0.0),(133,-0.4),(136,-0.9),(140.0,-1.5),(140.5,-2.5),(140.9,-3.5),(141.3,-2.2),(141.8,-1.7),(142.5,-2.0),(146,-1.8),(147.5,-2.4),(148.5,-2.4),
           (152.8,-2.5),(153.1,-5),(153.4,-8.5),(153.8,-4),(154.2,-1.3),(154.7,-2.3),(155.3,-3.0),(158,-2.3),(159.8,-2.2),(160.2,-4),(160.7,-11.0),(161.1,-7),(161.5,-9.5),(162.0,-8),(162.6,-9),
           (163.0,-11),(163.6,-14),(164.0,-11),(164.4,-13),(164.8,-8),(165.3,-5.8),(165.8,-8.5),(166.4,-7.5),(167.1,-8.5),(168.0,-7.2),(168.9,-8),(169.7,-8.5),
           (170.0,-3),(170.4,6.0),(170.8,1.5),(171.2,-2.3),(171.8,2.8),(172.4,-1.8),(173.0,1.8),(173.6,-1.2),(174.3,1.0),(175.0,-0.6),(175.7,0.5),(176.4,-0.2),(177,0)]
SSA_MRAC = [(122,0.1),(130.0,0.0),(133,-0.4),(136,-0.9),(140.0,-1.5),(140.5,-2.5),(140.9,-3.8),(141.3,-2.0),(141.8,-1.6),(142.5,-2.0),(146,-1.8),(147.5,-2.3),(148.5,-2.4),
            (152.8,-2.5),(153.1,-5),(153.4,-8.8),(153.8,-4),(154.2,-0.8),(154.7,-2.0),(155.3,-3.0),(158,-2.3),(159.8,-2.2),(160.2,-5),(160.6,-12.0),(161.0,-8),(161.5,-10),(162.0,-8.5),(162.6,-9.5),
            (163.0,-13),(163.3,-16),(163.6,-12),(163.9,-9),(164.2,-17.5),(164.5,-13),(164.8,-8),(165.3,-7),(165.8,-8.8),(166.4,-7.5),(167.1,-8.2),(168.0,-7.2),(168.9,-8),(169.7,-8.8),
            (170.0,-3),(170.4,6.5),(170.8,2),(171.2,-2.5),(171.8,3.5),(172.4,-1.8),(173.0,2.2),(173.6,-1.2),(174.3,1.2),(175.0,-0.6),(175.7,0.6),(176.4,-0.2),(177,0)]
SSA_NOICE = [(122,0.1),(130.0,0.0),(133,-0.4),(136,-0.9),(140.0,-1.5),(140.5,-2.5),(141.0,-3.8),(141.4,-2.2),(141.9,-1.6),(142.6,-2.0),(146,-1.8),(147.5,-2.4),(148.5,-2.4),
             (152.8,-2.5),(153.2,-5),(153.55,-9.5),(153.9,-5),(154.3,-1.5),(154.8,-2.3),(155.4,-3.0),(158,-2.3),(159.8,-2.2),(160.2,-4),(160.6,-10.5),(161.0,-7.5),(161.5,-9.5),(162.0,-8),(162.6,-9),
             (163.0,-12),(163.5,-16.5),(163.8,-12),(164.1,-14),(164.5,-11),(164.9,-7.5),(165.4,-8.5),(166.0,-7.5),(166.7,-8.3),(167.5,-7.6),(168.3,-7.4),(169.0,-8),(169.8,-8.5),
             (170.1,-3),(170.5,5.5),(170.9,1),(171.3,-2.2),(171.9,2.3),(172.5,-1.6),(173.1,1.5),(173.7,-1.0),(174.4,0.8),(175.1,-0.5),(175.8,0.4),(176.5,0),(177,0)]
SSA_ICE = [(122,0.1),(130.0,0.0),(133,-0.4),(136,-0.9),(140.0,-1.5),(140.4,-2.5),(140.8,-4.1),(141.2,-2.5),(141.6,-1.5),(142.3,-2.0),(144,-2.0),(146,-1.8),(147.5,-2.3),(148.5,-2.4),
           (152.8,-2.5),(153.0,-5),(153.25,-9.2),(153.6,-5),(154.0,-1.0),(154.5,-2),(155.1,-3.0),(156,-2.5),(158,-2.3),(159.8,-2.2),(160.1,-3),(160.3,-6),(160.5,-9.5),(160.9,-7.5),(161.4,-9),(161.9,-8),(162.6,-9),
           (162.9,-12),(163.3,-15.8),(163.6,-11),(163.9,-12.5),(164.3,-10),(164.7,-7),(165.2,-8.5),(165.8,-7.5),(166.5,-8.2),(167.2,-7.6),(168.0,-7.2),(168.8,-7.8),(169.7,-8.5),
           (170.0,-3),(170.4,5.0),(170.8,1),(171.2,-2.0),(171.8,2.0),(172.4,-1.5),(173.0,1.3),(173.6,-1.0),(174.3,0.8),(175.0,-0.5),(175.7,0.4),(176.4,0),(177,0)]

# ---------------- styling ----------------
W, H = 1142, 978
FONT = "Liberation Sans, Arial, Helvetica, sans-serif"
TXT = "#262626"
C_PID, C_MRAC, C_NOICE, C_ICE = "#EE7D1A", "#6CAE2B", "#D1268C", "#1B78C4"
C_LEFT, C_RIGHT = "#FDEBEB", "#EDEDF9"
SERIES_NAMES = ["PID", "MRAC", "NMPC without ice", "NMPC with ice"]
SERIES_COLORS = [C_PID, C_MRAC, C_NOICE, C_ICE]

LX = [83 / W, 558 / W]
RX = [641 / W, 1116 / W]


def ydom(top, bot):
    return [1 - bot / H, 1 - top / H]


def fmt(v):
    return "%g" % v  # plain ASCII hyphen-minus, like the reference


PANELS = [
    dict(n=1, xd=LX, yd=ydom(103, 395), yr=[-1.8, 35.2], yt=[0, 10, 20, 30], title="Pitch [deg]",
         series=[PITCH_PID, PITCH_MRAC, PITCH_NOICE, PITCH_ICE], ref=PITCH_REF, xr=X_RANGE),
    dict(n=2, xd=RX, yd=ydom(104, 222), yr=ZOOM_Y, yt=[25, 30, 35], title=None,
         series=[PITCH_PID, PITCH_MRAC, PITCH_NOICE, PITCH_ICE], ref=PITCH_REF, xr=ZOOM_X),
    dict(n=3, xd=LX, yd=ydom(450, 567), yr=[-6.5, 12.1], yt=[-5, 0, 5, 10], title="Roll [deg]",
         series=[ROLL_PID, ROLL_MRAC, ROLL_NOICE, ROLL_ICE], ref=None, xr=X_RANGE),
    dict(n=4, xd=RX, yd=ydom(277, 395), yr=[-15.7, 4.1], yt=[-15, -10, -5, 0], title="Elevator [deg]",
         series=[ELEV_PID, ELEV_MRAC, ELEV_NOICE, ELEV_ICE], ref=None, xr=X_RANGE),
    dict(n=5, xd=RX, yd=ydom(450, 567), yr=[-22.5, 7.0], yt=[-20, -10, 0], title="Aileron [deg]",
         series=[AIL_PID, AIL_MRAC, AIL_NOICE, AIL_ICE], ref=None, xr=X_RANGE),
    dict(n=6, xd=LX, yd=ydom(623, 742), yr=[19.5, 20.5], yt=[19.5, 20, 20.5], title="Va [m/s]",
         series=[VA_PID, VA_MRAC, VA_NOICE, VA_ICE], ref=VA_REF, xr=X_RANGE),
    dict(n=7, xd=RX, yd=ydom(623, 742), yr=[0.547, 1.024], yt=[0.6, 0.8, 1.0], title="Throttle",
         series=[THR_PID, THR_MRAC, THR_NOICE, THR_ICE], ref=None, xr=X_RANGE),
    dict(n=8, xd=LX, yd=ydom(796, 914), yr=[-0.93, 6.93], yt=[0, 2, 4, 6], title="AOA [deg]",
         series=[AOA_PID, AOA_MRAC, AOA_NOICE, AOA_ICE], ref=None, xr=X_RANGE, xtitle="Time [s]"),
    dict(n=9, xd=RX, yd=ydom(796, 914), yr=[-20, 10], yt=[-20, -10, 0, 10], title="SSA [deg]",
         series=[SSA_PID, SSA_MRAC, SSA_NOICE, SSA_ICE], ref=None, xr=X_RANGE, xtitle="Time [s]"),
]


def split(pairs):
    return [p[0] for p in pairs], [p[1] for p in pairs]


fig = go.Figure()
layout = dict(width=W, height=H, margin=dict(l=0, r=0, t=0, b=0),
              paper_bgcolor="white", plot_bgcolor="white",
              font=dict(family=FONT, color=TXT, size=20), showlegend=True)

# legend swatches for the icing regions (thick bars, linked to the shaded areas)
fig.add_trace(go.Scatter(x=[None], y=[None], mode="lines", line=dict(color=C_LEFT, width=20),
                         name="Icing left wing 100%", legend="legend", legendgroup="iceL", showlegend=True))
fig.add_trace(go.Scatter(x=[None], y=[None], mode="lines", line=dict(color=C_RIGHT, width=20),
                         name="Icing right wing 70%", legend="legend", legendgroup="iceR", showlegend=True))

first = True
for p in PANELS:
    n = p["n"]
    xa = "x" if n == 1 else f"x{n}"
    ya = "y" if n == 1 else f"y{n}"
    y0, y1 = p["yr"]
    hgt = y1 - y0
    fig.add_trace(go.Scatter(
        x=[ICE_START, ICE_FULL, ICE_LEFT_END, ICE_LEFT_END, ICE_START],
        y=[y0, y1, y1, y0, y0], fill="toself", fillcolor=C_LEFT, mode="none",
        name="Icing left wing 100%", legendgroup="iceL", showlegend=False, hoverinfo="skip",
        xaxis=xa, yaxis=ya))
    ytop_r = y0 + ICE_RIGHT_FRAC * hgt
    fig.add_trace(go.Scatter(
        x=[ICE_START, ICE_FULL, ICE_RIGHT_END, ICE_RIGHT_END, ICE_START],
        y=[y0, ytop_r, ytop_r, y0, y0], fill="toself", fillcolor=C_RIGHT, mode="none",
        name="Icing right wing 70%", legendgroup="iceR", showlegend=False, hoverinfo="skip",
        xaxis=xa, yaxis=ya))
    if p["ref"] is not None:
        rx, ry = split(p["ref"])
        fig.add_trace(go.Scatter(x=rx, y=ry, mode="lines", line=dict(color="#1a1a1a", width=1.3, dash="dash"),
                                 showlegend=False, hoverinfo="skip", xaxis=xa, yaxis=ya))
    for i, (s, nm, col) in enumerate(zip(p["series"], SERIES_NAMES, SERIES_COLORS)):
        sx, sy = split(s)
        fig.add_trace(go.Scatter(x=sx, y=sy, mode="lines", line=dict(color=col, width=2),
                                 name=nm, legend=("legend" if i == 0 else "legend2"), legendgroup=nm,
                                 showlegend=first, xaxis=xa, yaxis=ya))
    first = False

    xkey = "xaxis" if n == 1 else f"xaxis{n}"
    ykey = "yaxis" if n == 1 else f"yaxis{n}"
    layout[xkey] = dict(domain=p["xd"], range=p["xr"], anchor=ya, showline=True, linecolor=TXT, linewidth=1,
                        ticks="inside", ticklen=5, tickcolor=TXT, tickvals=X_TICKS,
                        ticktext=[fmt(v) for v in X_TICKS], showgrid=False, ticklabelstandoff=5,
                        zeroline=False, tickfont=dict(size=20, color="#333333"), layer="below traces",
                        title=dict(text=p.get("xtitle", ""), font=dict(size=24), standoff=9))
    layout[ykey] = dict(domain=p["yd"], range=p["yr"], anchor=xa, showline=True, linecolor=TXT, linewidth=1,
                        ticks="inside", ticklen=5, tickcolor=TXT, tickvals=p["yt"],
                        ticktext=[fmt(v) for v in p["yt"]], showgrid=False,
                        zeroline=False, tickfont=dict(size=20, color="#333333"),
                        title=dict(text=p["title"] or "", font=dict(size=24), standoff=3))

LEG = dict(y=1.02, xanchor="left", yanchor="top", orientation="v",
           bgcolor="rgba(0,0,0,0)", font=dict(size=19, color=TXT), itemwidth=80,
           tracegroupgap=0, traceorder="normal")
layout["legend"] = dict(x=58 / W, **LEG)
layout["legend2"] = dict(x=353 / W, **LEG)

layout["shapes"] = [dict(type="rect", xref="x", yref="y", x0=ZOOM_X[0], x1=ZOOM_X[1], y0=ZOOM_Y[0], y1=ZOOM_Y[1],
                         line=dict(color="#404040", width=1.5), layer="above")]
layout["annotations"] = [
    dict(text="Pitch, zoomed in", xref="x2", yref="y2", x=147, y=ZOOM_Y[1], xanchor="center", yanchor="top",
         showarrow=False, font=dict(size=20, color=TXT)),
    dict(text="Varying reference in pitch<br>Va = 20 m/s, no wind", xref="paper", yref="paper",
         x=862 / W, y=1.011, xanchor="center", yanchor="top", showarrow=False,
         font=dict(size=30, color="#333333")),
]

fig.update_layout(**layout)
fig.write_html("out.html")
